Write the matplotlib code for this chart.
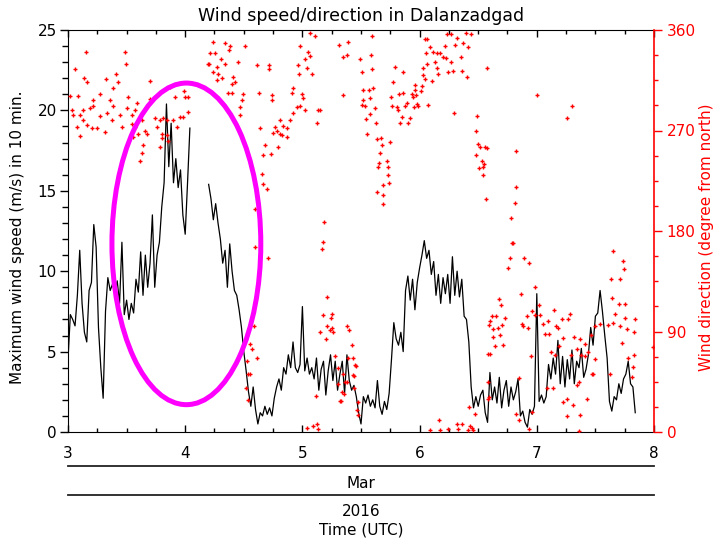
import numpy as np
import matplotlib
matplotlib.use("Agg")
import matplotlib.pyplot as plt
from matplotlib.patches import Ellipse
from matplotlib.lines import Line2D
from matplotlib.ticker import MultipleLocator

# ---------------- data ----------------
speed_start_day = 3.0
speed_step_days = 0.02
nan = float("nan")
max_speed = [
    4.5, 7.3, 7.0, 6.6, 8.5, 11.3, 8.0, 6.2, 5.6, 8.8, 9.3, 12.9, 11.5, 6.5, 4.0,
    2.1, 7.5, 9.6, 8.8, 9.2, 8.6, 9.4, 8.0, 11.8, 7.3, 8.2, 7.0, 8.0, 7.4, 9.5,
    8.7, 11.2, 8.5, 11.0, 9.0, 10.5, 13.5, 9.0, 11.0, 11.8, 14.0, 15.5, 20.4, 16.5, 19.2,
    15.5, 17.0, 15.2, 16.3, 13.5, 12.3, 15.5, 18.9, nan, nan, nan, nan, nan, nan, nan,
    15.4, 14.5, 13.2, 14.2, 13.0, 12.0, 10.5, 11.3, 9.0, 11.7, 10.0, 8.8, 8.5, 7.6, 6.5,
    5.0, 3.8, 2.5, 1.6, 2.8, 1.4, 0.5, 1.2, 1.0, 1.6, 1.1, 1.5, 1.0, 2.1, 2.8,
    3.3, 2.6, 4.0, 3.6, 4.8, 4.0, 5.6, 4.0, 3.7, 4.2, 7.8, 3.8, 4.6, 3.6, 4.0,
    3.3, 4.6, 2.6, 3.9, 4.4, 2.3, 3.8, 4.8, 3.2, 4.4, 2.6, 3.6, 4.4, 2.4, 4.8,
    3.2, 2.6, 2.9, 2.2, 1.2, 0.5, 2.2, 1.8, 2.3, 1.6, 2.0, 1.5, 3.2, 1.6, 1.1,
    1.9, 1.4, 2.4, 4.5, 6.8, 5.8, 5.4, 6.2, 5.0, 8.8, 9.7, 8.2, 9.5, 7.6, 9.3,
    10.2, 11.0, 11.9, 10.8, 11.3, 9.8, 10.6, 8.5, 9.8, 8.0, 9.6, 8.6, 9.8, 8.0, 10.9,
    8.5, 10.0, 8.4, 9.5, 7.2, 7.0, 5.6, 2.8, 1.5, 2.2, 1.6, 2.3, 2.6, 1.2, 0.6,
    3.7, 2.0, 2.8, 1.8, 3.4, 1.5, 2.6, 3.2, 1.6, 2.8, 2.0, 2.5, 3.3, 1.0, 1.3,
    0.6, 0.3, 1.4, 1.1, 1.6, 8.6, 1.9, 2.3, 1.8, 2.2, 4.2, 3.3, 4.6, 3.6, 5.7,
    3.0, 4.7, 2.8, 4.5, 3.3, 5.1, 3.0, 4.4, 4.0, 5.2, 3.4, 3.9, 4.8, 6.5, 5.4,
    7.2, 7.4, 8.8, 7.5, 6.0, 4.6, 1.9, 1.3, 2.2, 2.0, 3.0, 2.4, 3.3, 3.6, 4.4,
    3.0, 2.8, 1.2,
]

# wind direction: hours since 3 Mar 00 UTC, degrees from north
dir_hours_a = [3.7, 1.4, 11.7, 11.9, 3.3, 3.9, 7.8, 9.8, 10.2, 16.8, 0.4, 2.0, 5.1, 6.6, 8.6, 9.2,
               12.3, 14.1, 16.8, 20.9, 23.8, 24.0, 24.6, 21.9, 0.8, 1.0, 2.5, 3.1, 4.5, 5.1, 6.6,
               8.0, 9.2, 10.6, 12.1, 13.1, 13.7, 1.8, 3.1, 3.9, 4.9, 5.9, 7.6, 9.0, 11.1, 2.5,
               13.1, 13.7, 15.2, 15.8, 17.8, 18.2, 18.8, 19.5, 20.3, 19.3, 20.3, 21.5, 22.3,
               22.9, 23.6, 24.6, 15.4, 15.2, 16.2, 14.7, 18.8, 19.3, 20.5, 14.3, 13.3, 28.7]
dir_deg_a = [340, 325, 340, 330, 317, 313, 316, 321, 313, 314, 301, 301, 297, 303, 297, 308,
             300, 295, 298, 309, 305, 300, 300, 300, 288, 284, 284, 288, 290, 292, 283,
             286, 292, 284, 290, 284, 288, 273, 279, 275, 272, 272, 269, 279, 273, 265,
             276, 273, 279, 270, 281, 273, 279, 281, 279, 267, 266, 279, 273,
             282, 282, 287, 257, 250, 267, 243, 255, 263, 261, 267, 264, 330]

dir_hours_b = [29.7, 32.2, 33.2, 33.0, 36.2, 29.1, 30.1, 31.3, 32.2, 28.9,
               30.5, 29.7, 30.7, 31.5, 33.8, 34.2, 33.6, 34.8, 30.5, 32.8,
               33.6, 35.8, 35.6, 35.2, 35.2, 38.7, 39.1, 41.2, 41.2, 41.8,
               41.8, 39.3, 40.3, 39.9, 41.6, 43.0, 42.8, 43.4, 44.0, 42.4,
               44.9, 45.5, 46.1, 45.9, 46.1, 47.9, 48.1, 48.5, 47.5, 46.9,
               43.8, 44.9, 43.4, 42.0, 47.5, 49.2, 49.6, 47.1, 47.3, 48.9,
               50.0, 48.5, 51.2, 51.6, 51.0, 49.6, 50.6, 55.5, 57.1, 56.3,
               57.3, 39.7, 39.9, 40.8, 38.3, 38.3, 41.0, 52.4, 52.2, 52.0,
               53.0, 52.2, 54.1, 53.9, 53.0, 54.1, 51.6, 54.3, 52.8, 57.1,
               38.1, 37.3, 37.7, 38.7, 36.7, 36.9, 37.3, 36.5, 36.9, 56.7,
               55.3, 56.5, 55.9, 50.8, 48.9, 50.2, 51.2, 51.0]
dir_deg_b = [349, 348, 346, 342, 346, 339, 339, 334, 330, 330,
             327, 322, 321, 317, 318, 313, 312, 331, 315, 304,
             304, 303, 297, 291, 284, 329, 304, 329, 325, 302,
             297, 272, 257, 248, 249, 255, 270, 279, 274, 273,
             272, 279, 286, 304, 308, 303, 299, 288, 292, 291,
             266, 264, 267, 268, 346, 340, 337, 329, 321, 326,
             321, 334, 288, 288, 277, 357, 355, 347, 338, 302,
             349, 231, 222, 218, 200, 166, 156, 188, 170, 164,
             121, 105, 106, 102, 95, 93, 90, 90, 83, 95,
             95, 79, 74, 66, 64, 52, 52, 39, 29, 45,
             43, 34, 28, 32, 4, 5, 3, 7]

dir_hours_c = [62.3, 56.3, 59.8, 62.1, 62.3, 60.2, 60.4, 61.6, 62.5, 60.4,
               61.8, 60.2, 60.8, 62.9, 61.8, 61.0, 63.1, 61.2, 63.3, 64.1,
               64.3, 65.9, 63.9, 65.3, 63.7, 63.5, 65.5, 65.5, 64.5, 65.7,
               63.3, 64.5, 64.5, 67.0, 68.6, 66.6, 66.2, 66.4, 67.4, 67.6,
               68.4, 68.0, 69.6, 70.0, 67.8, 68.6, 69.4, 69.0, 70.5, 71.1,
               70.7, 71.3, 71.7, 72.3, 71.5, 70.9, 71.1, 72.5, 73.7, 72.7,
               73.1, 74.5, 73.5, 75.2, 75.6, 75.8, 72.7, 73.3, 74.1, 74.8,
               75.6, 76.2, 73.1, 73.5, 77.2, 77.6, 78.4, 79.3, 79.7, 80.9,
               81.5, 82.5, 81.9, 77.4, 78.4, 76.8, 77.8, 78.8, 80.5, 80.7,
               81.7, 79.1, 85.8, 83.8, 83.6, 84.0, 84.4, 83.6, 85.4, 84.8,
               85.2, 84.2, 85.0, 85.0, 85.6, 57.5, 58.2, 57.3, 58.4, 58.8,
               56.3, 58.4, 58.6, 57.1, 55.7, 59.4, 59.2, 59.4, 76.0, 74.1,
               76.2, 77.8, 79.9, 80.7, 81.9, 82.7, 82.9, 82.1, 83.4, 86.2,
               86.0, 86.0, 59.0, 55.3, 58.6, 56.1, 54.7, 53.7]
dir_deg_c = [355, 336, 334, 338, 325, 322, 306, 306, 308, 297,
             299, 293, 292, 290, 285, 280, 277, 267, 262, 263,
             257, 260, 250, 243, 241, 237, 237, 230, 221, 223,
             215, 212, 204, 327, 322, 313, 300, 292, 291, 288,
             282, 277, 277, 281, 303, 304, 295, 292, 303, 306,
             300, 302, 292, 305, 294, 291, 311, 310, 293, 320,
             316, 314, 330, 331, 326, 321, 326, 339, 345, 340,
             339, 339, 352, 352, 346, 356, 356, 347, 353, 348,
             357, 356, 345, 335, 331, 336, 322, 323, 336, 323,
             318, 286, 326, 283, 270, 258, 255, 248, 255, 243,
             240, 236, 237, 230, 209, 91, 78, 66, 66, 60,
             52, 51, 39, 45, 28, 27, 20, 15, 11, 2,
             2, 3, 3, 7, 2, 4, 2, 22, 16, 96,
             70, 45, 59, 57, 50, 36, 68, 91]

dir_hours_d = [96.1, 102.2, 103.2, 85.8, 91.8, 91.8, 91.5, 90.7, 90.9, 91.1,
               90.5, 90.1, 93.4, 94.4, 92.8, 95.6, 88.3, 88.7, 86.8, 87.7,
               86.4, 89.5, 88.9, 87.0, 88.1, 87.0, 88.5, 87.4, 89.1, 86.4,
               93.0, 93.2, 94.0, 94.2, 95.0, 95.6, 96.5, 96.7, 97.3, 98.3,
               98.5, 97.7, 99.5, 99.9, 100.4, 101.2, 102.8, 102.4, 101.4, 103.6,
               104.9, 105.9, 107.1, 107.9, 109.0, 110.6, 111.6, 112.0, 113.1, 114.1,
               114.5, 116.1, 115.9, 111.6, 113.7, 113.9, 111.2, 113.1, 111.4, 114.1,
               112.8, 113.5, 115.9, 114.7, 115.7, 115.5, 107.9, 106.5, 104.2, 105.1,
               105.9, 103.0, 100.6, 99.7, 98.9, 94.8, 98.1, 99.3, 102.2, 101.4,
               103.4, 104.2, 104.7, 104.9, 102.2, 106.3, 107.3, 107.5, 111.0, 92.4,
               86.0, 91.8, 92.4, 94.4, 95.0, 104.7, 119.8, 79.7, 82.3, 86.2]
dir_deg_d = [302, 281, 292, 254, 252, 219, 205, 192, 169, 169,
             156, 147, 156, 151, 124, 130, 119, 114, 104, 104,
             99, 102, 96, 92, 93, 85, 87, 77, 78, 70,
             97, 95, 104, 93, 108, 105, 114, 105, 97, 99,
             88, 88, 109, 95, 93, 101, 106, 101, 84, 85,
             83, 79, 87, 95, 97, 96, 98, 106, 95, 102,
             92, 101, 90, 162, 153, 146, 137, 137, 120, 115,
             115, 80, 69, 66, 58, 49, 65, 72, 74, 69,
             68, 69, 77, 69, 72, 68, 39, 39, 30, 27,
             24, 42, 45, 15, 14, 30, 52, 52, 52, 48,
             30, 16, 11, 3, 18, 1, 76, 7, 5, 31]

dir_hours = dir_hours_a + dir_hours_b + dir_hours_c + dir_hours_d
dir_deg = dir_deg_a + dir_deg_b + dir_deg_c + dir_deg_d
n_dir = min(len(dir_hours), len(dir_deg))

x_ticks = [3, 4, 5, 6, 7, 8]
speed_ticks = [0, 5, 10, 15, 20, 25]
dir_ticks = [0, 90, 180, 270, 360]

# highlighted region (ellipse)
hl_center = (4.01, 11.7)
hl_width_days = 1.27
hl_height_speed = 20.0

# ---------------- figure ----------------
W, H = 716, 544
fig = plt.figure(figsize=(W / 100, H / 100), dpi=100)
fig.patch.set_facecolor("white")
ax_l, ax_r, ax_t, ax_b = 68, 654, 30, 432
ax = fig.add_axes([ax_l / W, 1 - ax_b / H, (ax_r - ax_l) / W, (ax_b - ax_t) / H])

times = speed_start_day + speed_step_days * np.arange(len(max_speed))
ax.plot(times, max_speed, color="black", lw=0.9)

ax.set_xlim(3, 8)
ax.set_ylim(0, 25)
ax.set_xticks(x_ticks)
ax.set_yticks(speed_ticks)
ax.xaxis.set_minor_locator(MultipleLocator(0.25))
ax.yaxis.set_minor_locator(MultipleLocator(1))
ax.tick_params(axis="x", which="both", direction="in", top=True, bottom=True,
               labelsize=11, pad=10)
ax.tick_params(axis="x", which="major", length=5, width=1)
ax.tick_params(axis="x", which="minor", length=3, width=1)
ax.tick_params(axis="y", which="both", direction="out", labelsize=11, pad=2)
ax.tick_params(axis="y", which="major", length=6, width=1)
ax.tick_params(axis="y", which="minor", length=4, width=1)
ax.spines["right"].set_visible(False)

ax2 = ax.twinx()
days_dir = [speed_start_day + h / 24.0 for h in dir_hours[:n_dir]]
ax2.plot(days_dir, dir_deg[:n_dir], ls="none", marker="+", color="red",
         markersize=3.3, markeredgewidth=1.0)
ax2.set_ylim(0, 360)
ax2.set_yticks(dir_ticks)
ax2.yaxis.set_minor_locator(MultipleLocator(22.5))
ax2.tick_params(axis="y", which="both", direction="out", colors="red",
                labelsize=11, pad=3)
ax2.tick_params(axis="y", which="major", length=6, width=1)
ax2.tick_params(axis="y", which="minor", length=3, width=1)
ax2.spines["right"].set_color("red")
ax2.spines["right"].set_linewidth(1.2)
for s in ["left", "top", "bottom"]:
    ax2.spines[s].set_visible(False)

ell = Ellipse(hl_center, hl_width_days, hl_height_speed, transform=ax.transData,
              fill=False, edgecolor="#ff00ff", lw=3.6, zorder=5)
ax2.add_patch(ell)

# texts
fig.text(361 / W, 1 - 16 / H, "Wind speed/direction in Dalanzadgad",
         ha="center", va="center", fontsize=12.5)
fig.text(18 / W, 1 - 237 / H, "Maximum wind speed (m/s) in 10 min.",
         rotation=90, ha="center", va="center", fontsize=11)
fig.text(706 / W, 1 - 237 / H, "Wind direction (degree from north)",
         rotation=90, ha="center", va="center", fontsize=11, color="red")

for yy in (466, 495):
    fig.add_artist(Line2D([ax_l / W, ax_r / W], [1 - yy / H, 1 - yy / H],
                          transform=fig.transFigure, color="#222222", lw=1.3))
fig.text(361 / W, 1 - 483 / H, "Mar", ha="center", va="center", fontsize=11)
fig.text(361 / W, 1 - 512 / H, "2016", ha="center", va="center", fontsize=11)
fig.text(361 / W, 1 - 530 / H, "Time (UTC)", ha="center", va="center", fontsize=11)

fig.savefig("out.png", dpi=100)
